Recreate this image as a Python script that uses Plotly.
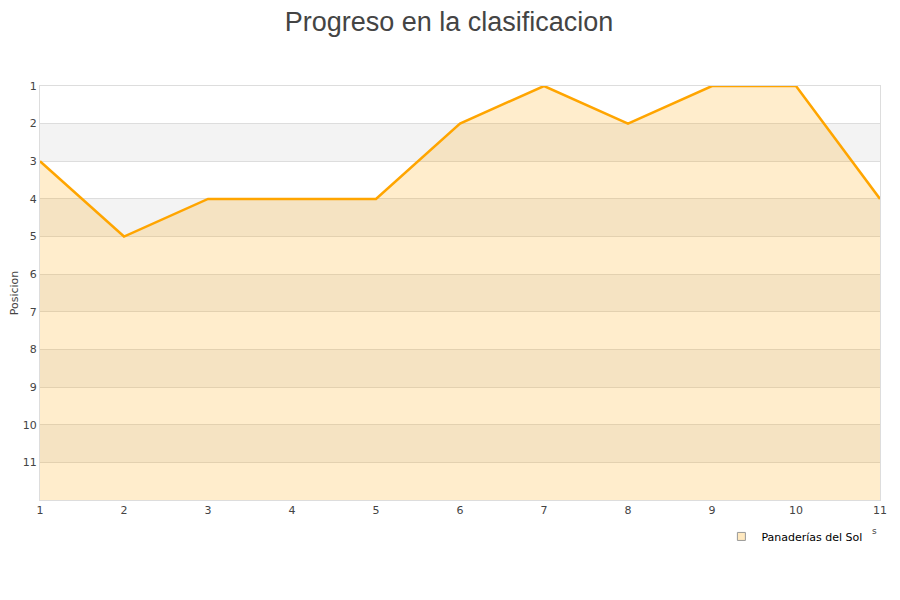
import plotly.graph_objects as go

jornadas = [1, 2, 3, 4, 5, 6, 7, 8, 9, 10, 11]
posiciones = [3, 5, 4, 4, 4, 2, 1, 2, 1, 1, 4]
serie = "Panaderías del Sol"
fondo = 12
bandas = [2, 4, 6, 8, 10]

fig = go.Figure()
fig.add_trace(go.Scatter(x=jornadas, y=[fondo] * len(jornadas), mode="lines",
                         line=dict(width=0), showlegend=False, hoverinfo="skip"))
fig.add_trace(go.Scatter(x=jornadas, y=posiciones, mode="lines", name=serie, showlegend=False,
                         line=dict(color="#ffa500", width=2.5),
                         fill="tonexty", fillcolor="rgba(255,165,0,0.2)"))
fig.add_trace(go.Scatter(x=[None], y=[None], mode="markers", name=serie,
                         marker=dict(symbol="square", size=8, color="#ffe9c0",
                                     line=dict(color="#999", width=1))))

shapes = []
for b in bandas:
    shapes.append(dict(type="rect", xref="paper", yref="y", x0=0, x1=1, y0=b, y1=b + 1,
                       fillcolor="#f3f3f3", line=dict(width=0), layer="below"))

fig.update_layout(
    width=900, height=600,
    paper_bgcolor="white", plot_bgcolor="white",
    font=dict(family="DejaVu Sans", color="#444", size=11),
    title=dict(text="Progreso en la clasificacion", x=0.49, xanchor="center", y=0.977, yanchor="middle",
               font=dict(family="Liberation Sans", size=27, color="#444")),
    margin=dict(l=32, r=28, t=78, b=108, autoexpand=False),
    shapes=shapes,
    showlegend=True,
    legend=dict(x=0.985, xanchor="right", y=-0.053, yanchor="top", orientation="h",
                font=dict(size=11, color="#000"), bgcolor="rgba(0,0,0,0)", itemwidth=30),
    xaxis=dict(range=[1, 11], tickvals=jornadas, showgrid=False, zeroline=False, automargin=False,
               showline=True, linecolor="#ddd", mirror=True, ticks="", tickfont=dict(size=11, color="#444")),
    yaxis=dict(range=[fondo, 1], tickvals=list(range(1, 12)), showgrid=True, gridcolor="#ddd",
               zeroline=False, showline=True, linecolor="#ddd", mirror=True, ticks="", automargin=False,
               title=dict(text="Posicion", font=dict(size=11, color="#444"), standoff=4),
               tickfont=dict(size=11, color="#444")),
    annotations=[dict(text="s", xref="paper", yref="paper", x=0.999, y=-0.092, showarrow=False,
                      font=dict(size=9, color="#444"))],
)

fig.write_html("out.html")
